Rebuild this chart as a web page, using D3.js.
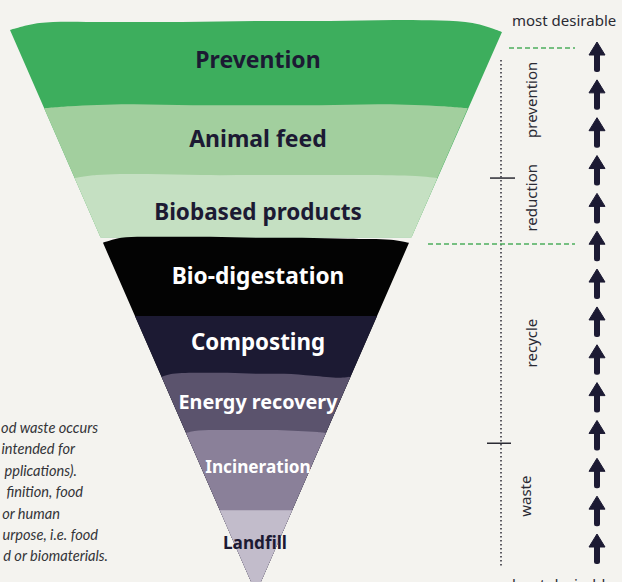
<!DOCTYPE html>
<html>
<head>
<meta charset="utf-8">
<script src="https://cdn.jsdelivr.net/npm/d3@7"></script>
<style>
  html, body { margin: 0; padding: 0; background: #f4f3ef; overflow: hidden; }
  svg { display: block; }
</style>
</head>
<body>
<div id="chart"></div>
<script>
// hierarchy levels, top (most desirable) to bottom
const levels = ['Prevention', 'Animal feed', 'Biobased products', 'Bio-digestation',
                'Composting', 'Energy recovery', 'Incineration', 'Landfill']
// depth (0 = top of funnel, 100 = apex) where each level starts
const levelStart = [0, 13.9, 26.3, 37.8, 50.8, 61.6, 71.6, 85.3]
const levelLabelDepth = [5.4, 19.4, 32.3, 43.7, 55.4, 66.1, 77.6, 91.1]
const greenEnd = 36.8   // green part stops a little before the dark part
const levelFill = ['#3dae5d', '#a2cf9e', '#c5e0c2', '#030303', '#1c1a33', '#5b536d', '#8a8099', '#c2bccb']
const levelText = ['#1c1a33', '#1c1a33', '#1c1a33', '#ffffff', '#ffffff', '#ffffff', '#ffffff', '#1c1a33']
const levelFont = [23, 23, 22.5, 22.7, 22.3, 19.8, 17.2, 17.2]
// wobble of each level's top edge (px) at fractions of its width
const wobbleAt = [0, 0.06, 0.2, 0.35, 0.5, 0.65, 0.8, 0.94, 1]
const wobble = [
  [0, -7, -8, -8, -9, -9, -10, -7, 2],
  [0, -2, -4, -3, -3, -3, -4, -2, 0],
  [0, -3, -4, -3, -3, -3, -3, -2, 0],
  [0, -5, -6, -6, -5, -5, -4, -3, 0],
  [0, 0, 0, 0, 0, 0, 0, 0, 0],
  [0, -3, -4, -4, -3, -3, -1, 1, 0],
  [0, -2, -3, -3, -3, -3, -2, -1, 0],
  [0, 0, 0, 0, 0, 0, 0, 0, 0]
]

// side scale of the hierarchy
const sections = ['prevention', 'reduction', 'recycle', 'waste']
const sectionLabelDepth = [12.4, 29.8, 55.6, 82.8]
const sectionTicks = [26.3, 73.4]
const dashedDepth = [3.2, 38.0]
const arrowCount = 14

const noteLines = ['od waste occurs', 'intended for', 'pplications).', 'finition, food',
                   'or human', 'urpose, i.e. food', 'd or biomaterials.']
const noteEnds = [98, 75, 77, 83, 60, 98, 108]

const width = 622, height = 582

const svg = d3.select('#chart').append('svg')
  .attr('width', width)
  .attr('height', height)

svg.append('rect').attr('width', width).attr('height', height).attr('fill', '#f4f3ef')

const y = d3.scaleLinear().domain([0, 100]).range([30, 593])
// half-width of the funnel in the same units as depth
const x = d3.scaleLinear().domain([-100, 100]).range([10, 502])

const topLine = d3.line().curve(d3.curveCatmullRom.alpha(0.5))

function bandPath(i, bottom) {
  const t = levelStart[i]
  const xl = x(-(100 - t)), xr = x(100 - t), yt = y(t)
  const pts = wobbleAt.map((f, k) => [xl + f * (xr - xl), yt + wobble[i][k]])
  let p = topLine(pts)
  p += 'L' + x(100 - bottom) + ',' + y(bottom)
  p += 'L' + x(-(100 - bottom)) + ',' + y(bottom) + 'Z'
  return p
}

const funnel = svg.append('g').attr('class', 'funnel')
levels.forEach((name, i) => {
  const bottom = i < 3 ? greenEnd : 100
  funnel.append('path')
    .attr('d', bandPath(i, bottom))
    .attr('fill', levelFill[i])
})

const labelFont = '"Noto Sans", "Open Sans", sans-serif'
levels.forEach((name, i) => {
  funnel.append('text')
    .attr('x', i === 7 ? 255 : 258)
    .attr('y', y(levelLabelDepth[i]))
    .attr('dy', '0.35em')
    .attr('text-anchor', 'middle')
    .attr('font-family', labelFont)
    .attr('font-weight', 700)
    .attr('font-size', levelFont[i])
    .attr('fill', levelText[i])
    .text(name)
})

// right hand scale
const side = svg.append('g').attr('class', 'side')
const ink = '#2a2a33'

side.append('text')
  .attr('x', 512).attr('y', 26)
  .attr('font-family', labelFont).attr('font-size', 15).attr('fill', ink)
  .text('most desirable')
side.append('text')
  .attr('x', 512).attr('y', 590)
  .attr('font-family', labelFont).attr('font-size', 15).attr('fill', ink)
  .text('least desirable')

side.append('line')
  .attr('x1', 501).attr('x2', 501)
  .attr('y1', 60).attr('y2', 568)
  .attr('stroke', ink).attr('stroke-width', 1.5)
  .attr('stroke-dasharray', '1.5,2.5')

sectionTicks.forEach((d, i) => {
  side.append('line')
    .attr('x1', i === 0 ? 490 : 487).attr('x2', i === 0 ? 515 : 511)
    .attr('y1', y(d)).attr('y2', y(d))
    .attr('stroke', ink).attr('stroke-width', 1.5)
})

dashedDepth.forEach((d, i) => {
  side.append('line')
    .attr('x1', i === 0 ? 509 : 428).attr('x2', 575)
    .attr('y1', y(d)).attr('y2', y(d))
    .attr('stroke', '#4cae5e').attr('stroke-width', 1.5)
    .attr('stroke-dasharray', '5,3')
})

sections.forEach((s, i) => {
  const cx = i === 3 ? 531 : 537
  side.append('text')
    .attr('transform', 'translate(' + cx + ',' + y(sectionLabelDepth[i]) + ') rotate(-90)')
    .attr('text-anchor', 'middle')
    .attr('font-family', labelFont).attr('font-size', 15).attr('fill', ink)
    .text(s)
})

const arrowY = d3.scaleLinear().domain([0, arrowCount - 1]).range([42, 534])
d3.range(arrowCount).forEach((i) => {
  const t = arrowY(i), cx = 597
  const g = side.append('g').attr('fill', '#1c1a33')
  g.append('path')
    .attr('d', 'M' + cx + ',' + t + 'L' + (cx + 8) + ',' + (t + 13) + 'L' + (cx - 8) + ',' + (t + 13) + 'Z')
    .attr('stroke', '#1c1a33').attr('stroke-width', 1).attr('stroke-linejoin', 'round')
  g.append('rect')
    .attr('x', cx - 3).attr('y', t + 10)
    .attr('width', 6).attr('height', 20)
    .attr('rx', 2.5)
})

// note on the left, cut by the page edge
const note = svg.append('g').attr('class', 'note')
noteLines.forEach((l, i) => {
  note.append('text')
    .attr('x', noteEnds[i])
    .attr('y', 433 + i * 21.4)
    .attr('text-anchor', 'end')
    .attr('font-family', 'Lato, "Open Sans", sans-serif')
    .attr('font-style', 'italic')
    .attr('font-size', 14.6)
    .attr('fill', '#333338')
    .text(l)
})
</script>
</body>
</html>
